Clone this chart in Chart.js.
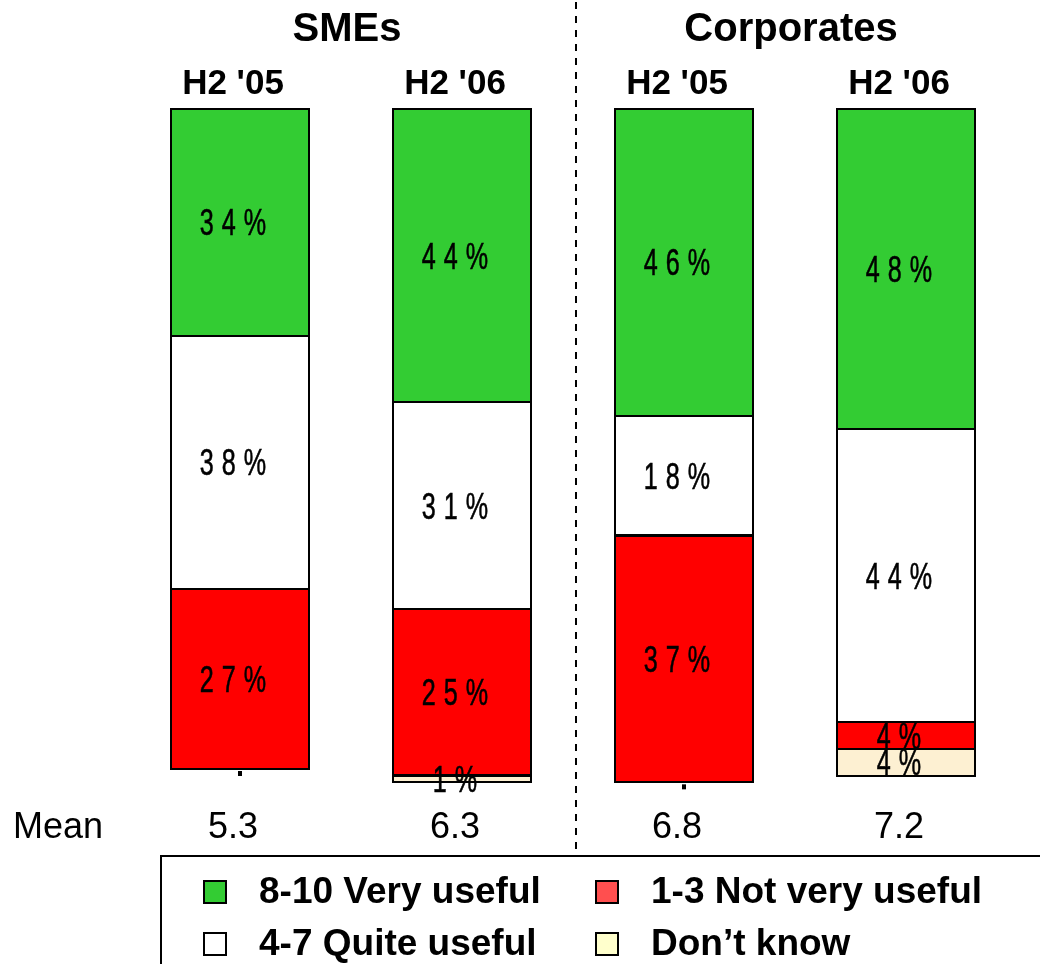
<!DOCTYPE html>
<html>
<head>
<meta charset="utf-8">
<script src="https://cdn.jsdelivr.net/npm/chart.js@4.4.1/dist/chart.umd.min.js"></script>
<style>
  html, body { margin: 0; padding: 0; background: #fff; }
  canvas { display: block; }
</style>
</head>
<body>
<canvas id="chart" width="1040" height="964"></canvas>
<script>
// Usefulness ratings by segment and survey wave (share of respondents, %)
const periods = ["H2 '05", "H2 '06", "H2 '05", "H2 '06"];
const segments = ["SMEs", "Corporates"];
const veryUseful = [34, 44, 46, 48];     // 8-10
const quiteUseful = [38, 31, 18, 44];    // 4-7
const notVeryUseful = [27, 25, 37, 4];   // 1-3
const dontKnow = [0, 1, 0, 4];
const means = [5.3, 6.3, 6.8, 7.2];
const seriesNames = ["8-10 Very useful", "4-7 Quite useful", "1-3 Not very useful", "Don\u2019t know"];

const barColors = ["#33cc33", "#ffffff", "#ff0000", "#fdf0d2"];
const legendColors = ["#33cc33", "#ffffff", "#ff4f4f", "#ffffcc"];

const FONT = '"Liberation Sans", Arial, sans-serif';
const TEXT_SHIFT = -7;

// Narrow, letter-spaced value labels inside the bars
function drawSpacedLabel(ctx, text, cx, cy) {
  const sx = 0.68, gap = 8;
  ctx.font = '37px ' + FONT;
  const chars = text.split('');
  const widths = chars.map(c => ctx.measureText(c).width * sx);
  const total = widths.reduce((a, b) => a + b, 0) + gap * (chars.length - 1);
  let x = cx - total / 2;
  ctx.lineWidth = 0.6;
  ctx.strokeStyle = '#000';
  chars.forEach((c, i) => {
    ctx.save();
    ctx.translate(x, cy + 13);
    ctx.scale(sx, 1);
    ctx.fillText(c, 0, 0);
    ctx.strokeText(c, 0, 0);
    ctx.restore();
    x += widths[i] + gap;
  });
}

const annotations = {
  id: 'annotations',
  afterDatasetsDraw(chart) {
    const ctx = chart.ctx;
    const xs = chart.scales.x;
    ctx.save();
    ctx.fillStyle = '#000';
    ctx.textBaseline = 'alphabetic';
    ctx.textAlign = 'left';

    // bar outlines
    ctx.strokeStyle = '#000';
    ctx.lineWidth = 2;
    chart.data.datasets.forEach((ds, di) => {
      chart.getDatasetMeta(di).data.forEach((bar, i) => {
        if (ds.data[i] === 0) return;
        const w = bar.width;
        ctx.strokeRect(Math.round(bar.x - w / 2), Math.round(bar.y), Math.round(w), Math.round(bar.base - bar.y));
      });
    });

    // value labels
    chart.data.datasets.forEach((ds, di) => {
      const meta = chart.getDatasetMeta(di);
      meta.data.forEach((bar, i) => {
        const v = ds.data[i];
        if (v === 0) {
          ctx.fillRect(bar.x - 2, bar.base + 2, 4, 5);
          return;
        }
        drawSpacedLabel(ctx, v + '%', bar.x + TEXT_SHIFT, (bar.y + bar.base) / 2);
      });
    });

    const cx = periods.map((_, i) => xs.getPixelForValue(i) + TEXT_SHIFT);

    // segment and period headings
    ctx.textAlign = 'center';
    ctx.font = 'bold 40px ' + FONT;
    segments.forEach((s, g) => {
      ctx.fillText(s, (cx[2 * g] + cx[2 * g + 1]) / 2 + 3, 41);
    });
    ctx.font = 'bold 35px ' + FONT;
    periods.forEach((p, i) => ctx.fillText(p, cx[i], 94));

    // mean scores
    ctx.font = '36px ' + FONT;
    means.forEach((m, i) => ctx.fillText(m.toFixed(1), cx[i], 838));
    ctx.textAlign = 'left';
    ctx.fillText('Mean', 13, 838);

    // divider between segments
    const divX = (xs.getPixelForValue(1) + xs.getPixelForValue(2)) / 2 + 3;
    ctx.strokeStyle = '#000';
    ctx.lineWidth = 2;
    ctx.setLineDash([7, 7]);
    ctx.beginPath();
    ctx.moveTo(divX, 2);
    ctx.lineTo(divX, 851);
    ctx.stroke();
    ctx.setLineDash([]);

    // legend box
    ctx.lineWidth = 2;
    ctx.strokeRect(161, 856, 1000, 200);
    const cols = [204, 596];
    const rows = [903, 955];
    const order = [[0, 0, 0], [2, 1, 0], [1, 0, 1], [3, 1, 1]];
    ctx.font = 'bold 37px ' + FONT;
    order.forEach(([si, c, r]) => {
      const mx = cols[c], my = rows[r] - 22;
      ctx.fillStyle = legendColors[si];
      ctx.fillRect(mx, my, 22, 22);
      ctx.strokeStyle = '#000';
      ctx.lineWidth = 2;
      ctx.strokeRect(mx, my, 22, 22);
      ctx.fillStyle = '#000';
      ctx.fillText(seriesNames[si], mx + 55, rows[r]);
    });
    ctx.restore();
  }
};

const seriesValues = [veryUseful, quiteUseful, notVeryUseful, dontKnow];

new Chart(document.getElementById('chart'), {
  type: 'bar',
  data: {
    labels: periods,
    datasets: seriesValues.map((vals, i) => ({
      label: seriesNames[i],
      data: vals,
      backgroundColor: barColors[i],
      borderWidth: 0,
      barPercentage: 0.62,
      categoryPercentage: 1
    }))
  },
  options: {
    responsive: false,
    animation: false,
    events: [],
    layout: { padding: { left: 129, right: 23, top: 109, bottom: 155 } },
    plugins: { legend: { display: false }, tooltip: { enabled: false } },
    scales: {
      x: { stacked: true, display: false },
      y: { stacked: true, display: false, reverse: true, min: 0, max: 105 }
    }
  },
  plugins: [annotations]
});
</script>
</body>
</html>
